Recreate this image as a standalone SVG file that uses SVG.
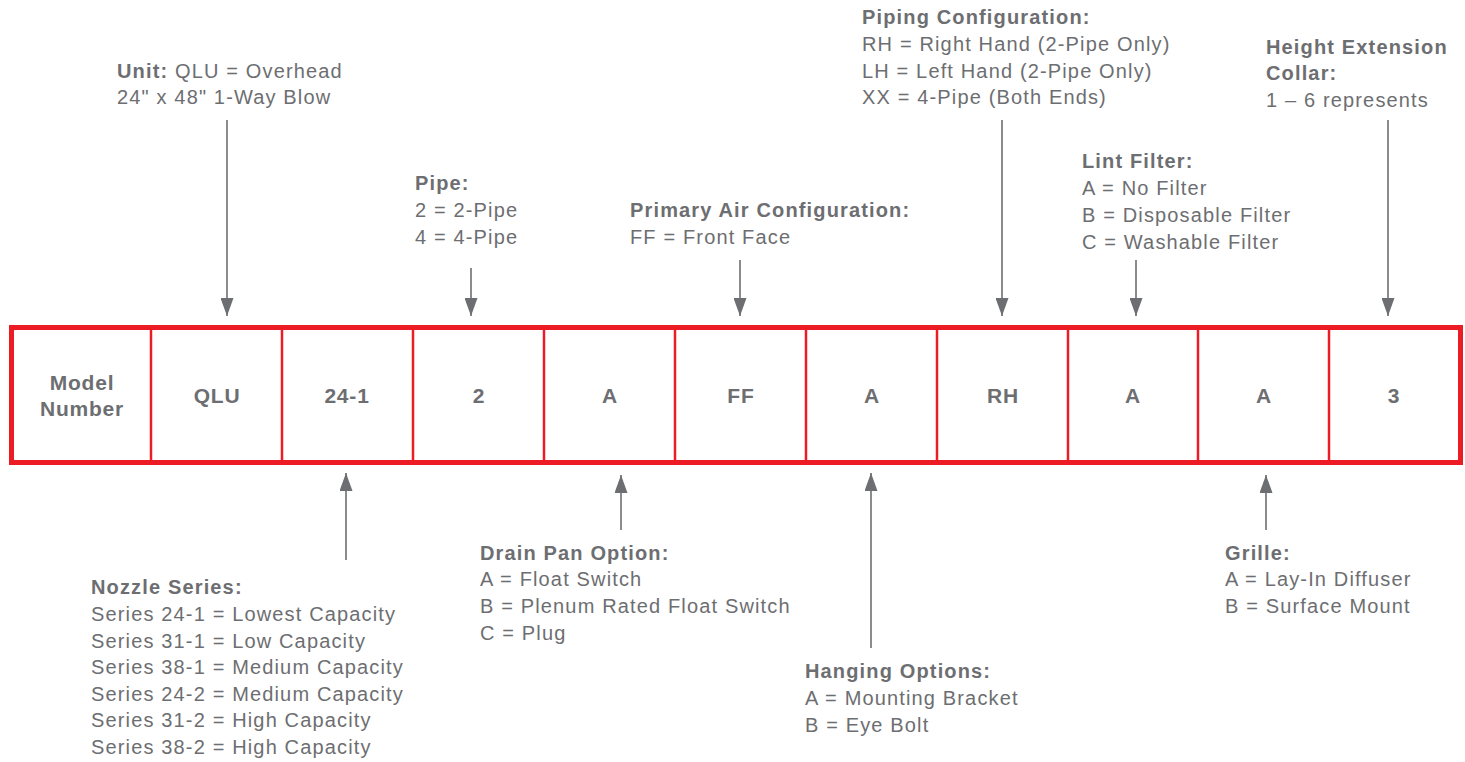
<svg xmlns="http://www.w3.org/2000/svg" width="1465" height="762" viewBox="0 0 1465 762">
<style>
text{font-family:"Liberation Sans",Arial,sans-serif;font-size:20px;letter-spacing:1.15px;fill:#6d6e71}
.b{font-weight:bold}
.cell{font-weight:bold;font-size:21px;letter-spacing:0.8px;text-anchor:middle}
.ln{stroke:#8a8b8e;stroke-width:2;fill:none}
.div{stroke:#ed1c24;stroke-width:2.5}
</style>
<defs>
<marker id="ah" viewBox="0 0 18 13" refX="18" refY="6.5" markerWidth="18" markerHeight="13" markerUnits="userSpaceOnUse" orient="auto">
<path d="M0,0 L18,6.5 L0,13 Z" fill="#6d6e71"/>
</marker>
</defs>
<rect width="1465" height="762" fill="#fff"/>
<g id="box">
<rect x="11.5" y="327.5" width="1449" height="135" fill="#fff" stroke="#ed1c24" stroke-width="5"/>
<line class="div" x1="151" y1="327" x2="151" y2="463"/>
<line class="div" x1="282" y1="327" x2="282" y2="463"/>
<line class="div" x1="413" y1="327" x2="413" y2="463"/>
<line class="div" x1="544" y1="327" x2="544" y2="463"/>
<line class="div" x1="675" y1="327" x2="675" y2="463"/>
<line class="div" x1="806" y1="327" x2="806" y2="463"/>
<line class="div" x1="937" y1="327" x2="937" y2="463"/>
<line class="div" x1="1068" y1="327" x2="1068" y2="463"/>
<line class="div" x1="1198" y1="327" x2="1198" y2="463"/>
<line class="div" x1="1329" y1="327" x2="1329" y2="463"/>
</g>
<g id="cells">
<text class="cell" x="82" y="390">Model</text>
<text class="cell" x="82" y="416">Number</text>
<text class="cell" x="217" y="403">QLU</text>
<text class="cell" x="347" y="403">24-1</text>
<text class="cell" x="479" y="403">2</text>
<text class="cell" x="610" y="403">A</text>
<text class="cell" x="741" y="403">FF</text>
<text class="cell" x="872" y="403">A</text>
<text class="cell" x="1003" y="403">RH</text>
<text class="cell" x="1133" y="403">A</text>
<text class="cell" x="1264" y="403">A</text>
<text class="cell" x="1394" y="403">3</text>
</g>
<g id="connectors">
<line class="ln" x1="227" y1="120" x2="227" y2="316" marker-end="url(#ah)"/>
<line class="ln" x1="471" y1="268" x2="471" y2="316" marker-end="url(#ah)"/>
<line class="ln" x1="740" y1="260" x2="740" y2="316" marker-end="url(#ah)"/>
<line class="ln" x1="1002" y1="120" x2="1002" y2="316" marker-end="url(#ah)"/>
<line class="ln" x1="1136" y1="260" x2="1136" y2="316" marker-end="url(#ah)"/>
<line class="ln" x1="1388" y1="120" x2="1388" y2="316" marker-end="url(#ah)"/>
<line class="ln" x1="346" y1="560" x2="346" y2="473" marker-end="url(#ah)"/>
<line class="ln" x1="621" y1="530" x2="621" y2="475" marker-end="url(#ah)"/>
<line class="ln" x1="871" y1="648" x2="871" y2="473" marker-end="url(#ah)"/>
<line class="ln" x1="1266" y1="530" x2="1266" y2="475" marker-end="url(#ah)"/>
</g>
<g id="unit">
<text x="117" y="78"><tspan class="b">Unit:</tspan> QLU = Overhead</text>
<text x="117" y="104">24" x 48" 1-Way Blow</text>
</g>
<g id="pipe">
<text class="b" x="415" y="190">Pipe:</text>
<text x="415" y="217">2 = 2-Pipe</text>
<text x="415" y="244">4 = 4-Pipe</text>
</g>
<g id="primary-air">
<text class="b" x="630" y="217">Primary Air Configuration:</text>
<text x="630" y="244">FF = Front Face</text>
</g>
<g id="piping">
<text class="b" x="862" y="24">Piping Configuration:</text>
<text x="862" y="51">RH = Right Hand (2-Pipe Only)</text>
<text x="862" y="78">LH = Left Hand (2-Pipe Only)</text>
<text x="862" y="104">XX = 4-Pipe (Both Ends)</text>
</g>
<g id="lint">
<text class="b" x="1082" y="168">Lint Filter:</text>
<text x="1082" y="195">A = No Filter</text>
<text x="1082" y="222">B = Disposable Filter</text>
<text x="1082" y="249">C = Washable Filter</text>
</g>
<g id="height">
<text class="b" x="1266" y="54">Height Extension</text>
<text class="b" x="1266" y="80">Collar:</text>
<text x="1266" y="107">1 – 6 represents</text>
</g>
<g id="nozzle">
<text class="b" x="91" y="594">Nozzle Series:</text>
<text x="91" y="621">Series 24-1 = Lowest Capacity</text>
<text x="91" y="648">Series 31-1 = Low Capacity</text>
<text x="91" y="674">Series 38-1 = Medium Capacity</text>
<text x="91" y="701">Series 24-2 = Medium Capacity</text>
<text x="91" y="727">Series 31-2 = High Capacity</text>
<text x="91" y="754">Series 38-2 = High Capacity</text>
</g>
<g id="drain">
<text class="b" x="480" y="560">Drain Pan Option:</text>
<text x="480" y="586">A = Float Switch</text>
<text x="480" y="613">B = Plenum Rated Float Switch</text>
<text x="480" y="640">C = Plug</text>
</g>
<g id="hanging">
<text class="b" x="805" y="678">Hanging Options:</text>
<text x="805" y="705">A = Mounting Bracket</text>
<text x="805" y="732">B = Eye Bolt</text>
</g>
<g id="grille">
<text class="b" x="1225" y="560">Grille:</text>
<text x="1225" y="586">A = Lay-In Diffuser</text>
<text x="1225" y="613">B = Surface Mount</text>
</g>
</svg>
